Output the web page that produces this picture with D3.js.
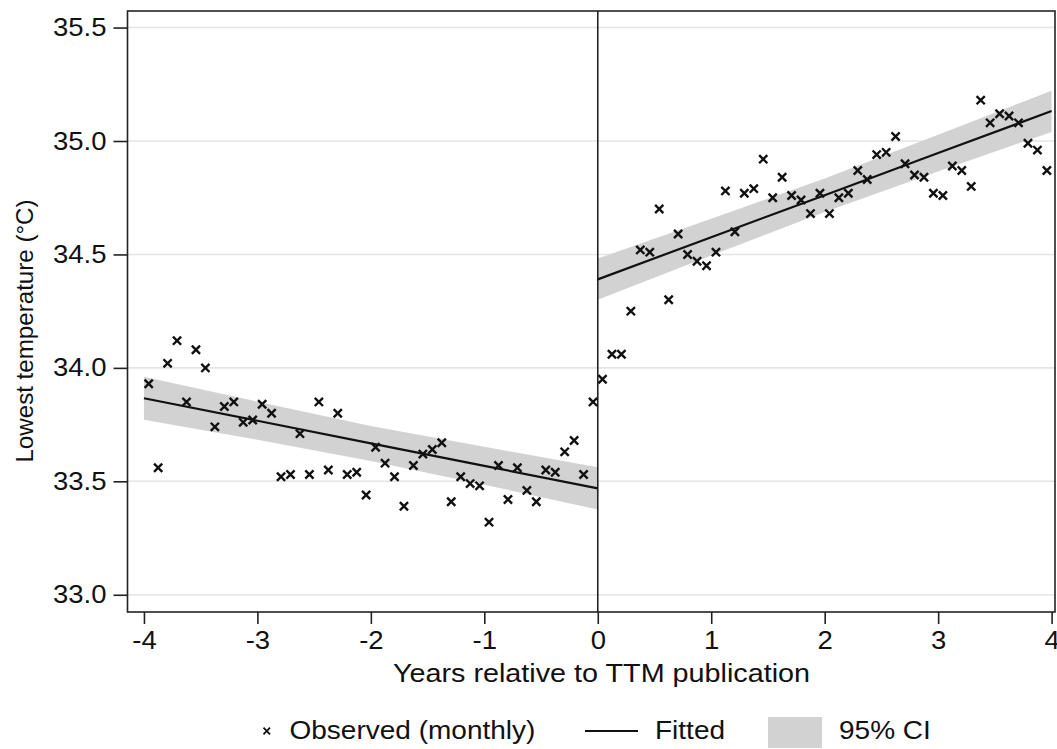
<!DOCTYPE html>
<html lang="en">
<head>
<meta charset="UTF-8">
<title>Lowest temperature around TTM publication</title>
<script src="https://cdn.jsdelivr.net/npm/d3@7"></script>
<style>
  body { margin: 0; background: #fff; }
  svg text { font-family: Helvetica, Arial, "Liberation Sans", sans-serif; fill: #111; }
</style>
</head>
<body>
<div id="root"></div>
<script>
// monthly observations, 48 months before and 48 after publication
var preObs = [33.93, 33.56, 34.02, 34.12, 33.85, 34.08, 34.00, 33.74, 33.83, 33.85,
              33.76, 33.77, 33.84, 33.80, 33.52, 33.53, 33.71, 33.53, 33.85, 33.55,
              33.80, 33.53, 33.54, 33.44, 33.65, 33.58, 33.52, 33.39, 33.57, 33.62,
              33.64, 33.67, 33.41, 33.52, 33.49, 33.48, 33.32, 33.57, 33.42, 33.56,
              33.46, 33.41, 33.55, 33.54, 33.63, 33.68, 33.53, 33.85]
var postObs = [33.95, 34.06, 34.06, 34.25, 34.52, 34.51, 34.70, 34.30, 34.59, 34.50,
               34.47, 34.45, 34.51, 34.78, 34.60, 34.77, 34.79, 34.92, 34.75, 34.84,
               34.76, 34.74, 34.68, 34.77, 34.68, 34.75, 34.77, 34.87, 34.83, 34.94,
               34.95, 35.02, 34.90, 34.85, 34.84, 34.77, 34.76, 34.89, 34.87, 34.80,
               35.18, 35.08, 35.12, 35.11, 35.08, 34.99, 34.96, 34.87]

// fitted line and 95% CI read at whole years
var fitYearsPre  = [-4, -3, -2, -1, 0]
var fitPre       = [33.866, 33.767, 33.667, 33.568, 33.469]
var ciLowPre     = [33.771, 33.683, 33.590, 33.485, 33.376]
var ciHighPre    = [33.961, 33.851, 33.744, 33.652, 33.562]
var fitYearsPost = [0, 1, 2, 3, 4]
var fitPost      = [34.390, 34.576, 34.761, 34.947, 35.132]
var ciLowPost    = [34.300, 34.495, 34.687, 34.866, 35.040]
var ciHighPost   = [34.482, 34.657, 34.835, 35.028, 35.222]

var xTicks = [-4, -3, -2, -1, 0, 1, 2, 3, 4]
var yTicks = [33.0, 33.5, 34.0, 34.5, 35.0, 35.5]
var legendLabels = ['Observed (monthly)', 'Fitted', '95% CI']

var width = 1057
var height = 749
var plot = {left: 127.5, right: 1055, top: 11, bottom: 612}

var svg = d3.select('#root').append('svg')
    .attr('width', width)
    .attr('height', height)

var x = d3.scaleLinear().domain([-4.145, 4.03]).range([plot.left, plot.right])
var y = d3.scaleLinear().domain([32.924, 35.573]).range([plot.bottom, plot.top])

// the reference text is a bit wider than the font, so stretch it
function widen(k) {
    return function(sel) {
        sel.each(function() {
            var w = this.getComputedTextLength()
            d3.select(this).attr('textLength', w * k).attr('lengthAdjust', 'spacingAndGlyphs')
        })
    }
}

// grid lines
svg.append('g').selectAll('line')
    .data(yTicks)
    .enter().append('line')
        .attr('x1', plot.left).attr('x2', plot.right)
        .attr('y1', function(d) { return y(d) })
        .attr('y2', function(d) { return y(d) })
        .attr('stroke', '#e4e4e4')
        .attr('stroke-width', 1.6)

// CI bands
function rows(years, fit, lo, hi) {
    return years.map(function(yr, i) { return {x: yr, fit: fit[i], lo: lo[i], hi: hi[i]} })
}
var segments = [
    rows(fitYearsPre, fitPre, ciLowPre, ciHighPre),
    rows(fitYearsPost, fitPost, ciLowPost, ciHighPost)
]

var area = d3.area()
    .x(function(d) { return x(d.x) })
    .y0(function(d) { return y(d.lo) })
    .y1(function(d) { return y(d.hi) })
var line = d3.line()
    .x(function(d) { return x(d.x) })
    .y(function(d) { return y(d.fit) })

svg.append('g').selectAll('path')
    .data(segments)
    .enter().append('path')
        .attr('d', area)
        .attr('fill', '#d2d2d2')

// vertical line at publication
svg.append('line')
    .attr('x1', x(0)).attr('x2', x(0))
    .attr('y1', plot.top).attr('y2', plot.bottom)
    .attr('stroke', '#222')
    .attr('stroke-width', 1.6)

// observed points as crosses
var obs = preObs.map(function(v, i) { return {x: (i - 47.5) / 12, v: v} })
    .concat(postObs.map(function(v, i) { return {x: (i + 0.5) / 12, v: v} }))
var s = 4.1
svg.append('g').selectAll('path')
    .data(obs)
    .enter().append('path')
        .attr('d', function(d) {
            var cx = x(d.x), cy = y(d.v)
            return 'M' + (cx - s) + ',' + (cy - s) + 'L' + (cx + s) + ',' + (cy + s) +
                   'M' + (cx - s) + ',' + (cy + s) + 'L' + (cx + s) + ',' + (cy - s)
        })
        .attr('stroke', '#111')
        .attr('stroke-width', 2.4)
        .attr('fill', 'none')

// fitted lines
svg.append('g').selectAll('path')
    .data(segments)
    .enter().append('path')
        .attr('d', line)
        .attr('fill', 'none')
        .attr('stroke', '#111')
        .attr('stroke-width', 2.2)

// frame
svg.append('rect')
    .attr('x', plot.left).attr('y', plot.top)
    .attr('width', plot.right - plot.left)
    .attr('height', plot.bottom - plot.top)
    .attr('fill', 'none')
    .attr('stroke', '#222')
    .attr('stroke-width', 1.6)

// axes
svg.append('g')
    .attr('transform', 'translate(' + plot.left + ',0)')
    .call(d3.axisLeft(y).tickValues(yTicks).tickFormat(d3.format('.1f')).tickSize(14).tickPadding(7))
svg.append('g')
    .attr('transform', 'translate(0,' + plot.bottom + ')')
    .call(d3.axisBottom(x).tickValues(xTicks).tickFormat(function(d) { return String(d) }).tickSize(12).tickPadding(7))

svg.selectAll('.domain').remove()
svg.selectAll('.tick line').attr('stroke', '#222').attr('stroke-width', 1.6)
svg.selectAll('.tick text')
    .attr('font-size', 25)
    .attr('fill', '#111')
    .call(widen(1.1))

// axis titles
svg.append('text')
    .attr('x', 601.5)
    .attr('y', 682)
    .attr('text-anchor', 'middle')
    .attr('font-size', 25)
    .text('Years relative to TTM publication')
    .call(widen(1.15))

svg.append('text')
    .attr('transform', 'translate(24,331) rotate(-90)')
    .attr('text-anchor', 'middle')
    .attr('dy', '0.36em')
    .attr('font-size', 24.5)
    .text('Lowest temperature (°C)')
    .call(widen(0.985))

// legend
var legend = svg.append('g').attr('transform', 'translate(0,731)')
legend.append('path')
    .attr('d', 'M263.5,-3.3L270,3.3M263.5,3.3L270,-3.3')
    .attr('stroke', '#111')
    .attr('stroke-width', 1.8)
legend.append('line')
    .attr('x1', 585).attr('x2', 638)
    .attr('stroke', '#111')
    .attr('stroke-width', 2.2)
legend.append('rect')
    .attr('x', 768).attr('y', -14)
    .attr('width', 54).attr('height', 31)
    .attr('fill', '#d2d2d2')
legend.selectAll('text')
    .data(legendLabels)
    .enter().append('text')
        .attr('x', function(d, i) { return [289.5, 655, 839][i] })
        .attr('y', 7.5)
        .attr('font-size', 25)
        .text(function(d) { return d })
        .call(widen(1.12))
</script>
</body>
</html>
